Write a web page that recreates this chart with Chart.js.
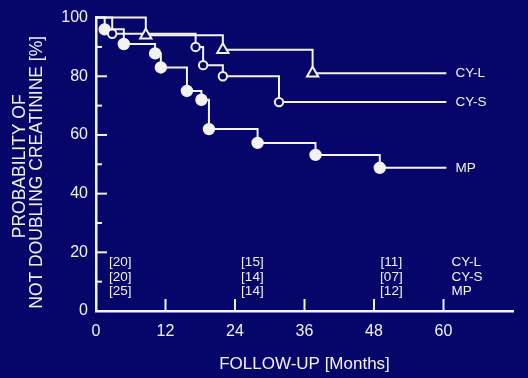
<!DOCTYPE html>
<html><head><meta charset="utf-8">
<script src="https://cdn.jsdelivr.net/npm/chart.js@4"></script>
<style>html,body{margin:0;padding:0;background:#06066a;overflow:hidden}#wrap{width:528px;height:378px}</style>
</head><body><div id="wrap"><canvas id="c" width="528" height="378"></canvas></div>
<script>
// Kaplan-Meier steps: month of each step and survival value after it
const cylMonths = [0, 8.6, 21.9, 37.4, 60.5];
const cylValues = [100, 94, 89, 81, 81];
const cysMonths = [0, 2.8, 17.2, 18.5, 21.9, 31.6, 60.5];
const cysValues = [100, 94.5, 90, 83.8, 80, 71.2, 71.2];
const mpMonths = [0, 1.5, 4.8, 10.2, 11.2, 15.7, 18.2, 19.5, 27.9, 37.9, 49.0, 60.5];
const mpValues = [100, 96, 91, 87.8, 83, 75, 72, 62, 57.3, 53.2, 48.8, 48.8];
const seriesNames = ['CY-L', 'CY-S', 'MP'];
// patients at risk
const riskMonths = [4.2, 27, 51];
const riskCYL = ['[20]', '[15]', '[11]'];
const riskCYS = ['[20]', '[14]', '[07]'];
const riskMP = ['[25]', '[14]', '[12]'];
const xTickLabels = [0, 12, 24, 36, 48, 60];
const yTickLabels = [0, 20, 40, 60, 80, 100];
const yTitleLines = ['PROBABILITY OF', 'NOT DOUBLING CREATININE [%]'];
const xTitle = 'FOLLOW-UP [Months]';

const BG = '#06066a';
const FG = '#f2f2f2';
const FONT = "'Liberation Sans', Arial, Helvetica, sans-serif";

function pts(xs, ys) { return xs.map((m, i) => ({x: m, y: ys[i]})); }
function endless(r) { return ctx => (ctx.dataIndex === 0 || ctx.dataIndex === ctx.dataset.data.length - 1) ? 0 : r; }

const decor = {
  id: 'decor',
  beforeDraw(chart) {
    const c = chart.ctx;
    c.save(); c.fillStyle = BG; c.fillRect(0, 0, chart.width, chart.height); c.restore();
  },
  afterDraw(chart) {
    const c = chart.ctx, xs = chart.scales.x, ys = chart.scales.y;
    c.save();
    c.strokeStyle = FG; c.fillStyle = FG; c.lineWidth = 2;
    // inward tick marks
    for (let v = 0; v <= 100; v += 10) {
      const py = ys.getPixelForValue(v);
      const len = v % 20 === 0 ? 11 : 6;
      c.beginPath(); c.moveTo(xs.left, py); c.lineTo(xs.left + len, py); c.stroke();
    }
    xTickLabels.forEach(t => {
      if (t === 0) return;
      const px = xs.getPixelForValue(t);
      c.beginPath(); c.moveTo(px, ys.bottom); c.lineTo(px, ys.bottom - 12); c.stroke();
    });
    // y axis title (two rotated lines)
    c.save();
    c.font = '17.5px ' + FONT; c.textAlign = 'center'; c.textBaseline = 'middle';
    const mid = (ys.top + ys.bottom) / 2;
    [[20, mid + 2], [37, mid + 8]].forEach((p, i) => {
      c.save(); c.translate(p[0], p[1]); c.rotate(-Math.PI / 2);
      c.fillText(yTitleLines[i], 0, 0); c.restore();
    });
    c.restore();
    // risk table
    c.font = '13.5px ' + FONT;
    c.textBaseline = 'middle';
    const rows = [riskCYL, riskCYS, riskMP];
    const rowOff = [49, 34, 20];
    rows.forEach((row, r) => {
      const py = ys.bottom - rowOff[r];
      c.textAlign = 'center';
      row.forEach((txt, k) => c.fillText(txt, xs.getPixelForValue(riskMonths[k]), py));
      c.textAlign = 'left';
      c.fillText(seriesNames[r], xs.getPixelForValue(60) + 8, py);
    });
    // end-of-line labels
    c.textAlign = 'left';
    chart.data.datasets.forEach((ds, i) => {
      const meta = chart.getDatasetMeta(i);
      const p = meta.data[meta.data.length - 1];
      c.fillText(seriesNames[i], p.x + 9, p.y);
    });
    c.restore();
  }
};

const common = {
  showLine: true, stepped: true, borderColor: FG, borderWidth: 2,
  pointBorderColor: FG, pointBorderWidth: 2, clip: 10, fill: false
};

new Chart(document.getElementById('c'), {
  type: 'scatter',
  data: {
    datasets: [
      Object.assign({}, common, {label: seriesNames[0], data: pts(cylMonths, cylValues),
        pointStyle: 'triangle', pointRadius: endless(6.5), pointBackgroundColor: BG}),
      Object.assign({}, common, {label: seriesNames[1], data: pts(cysMonths, cysValues),
        pointStyle: 'circle', pointRadius: endless(4.2), pointBackgroundColor: BG}),
      Object.assign({}, common, {label: seriesNames[2], data: pts(mpMonths, mpValues),
        pointStyle: 'circle', pointRadius: endless(5.2), pointBackgroundColor: FG})
    ]
  },
  options: {
    responsive: false, animation: false, devicePixelRatio: 1,
    layout: {padding: {left: 0, top: 16, right: 15, bottom: 0}},
    plugins: {legend: {display: false}, tooltip: {enabled: false}},
    scales: {
      x: {
        type: 'linear', min: 0, max: 72,
        afterFit(s) { s.height = 67; },
        grid: {display: false, drawTicks: false, tickLength: 0},
        border: {display: true, color: FG, width: 2.5},
        afterBuildTicks(s) { s.ticks = xTickLabels.map(v => ({value: v})); },
        ticks: {color: FG, font: {family: FONT, size: 16}, padding: 11, autoSkip: false, maxRotation: 0},
        title: {display: true, text: xTitle, color: FG,
          font: {family: FONT, size: 17, lineHeight: 1.2}, padding: {top: 0, bottom: 3}}
      },
      y: {
        type: 'linear', min: 0, max: 100,
        afterFit(s) { s.width = 96; },
        grid: {display: false, drawTicks: false, tickLength: 0},
        border: {display: true, color: FG, width: 2.5},
        afterBuildTicks(s) { s.ticks = yTickLabels.map(v => ({value: v})); },
        ticks: {color: FG, font: {family: FONT, size: 16}, padding: 8},
        title: {display: false}
      }
    }
  },
  plugins: [decor]
});
</script></body></html>
